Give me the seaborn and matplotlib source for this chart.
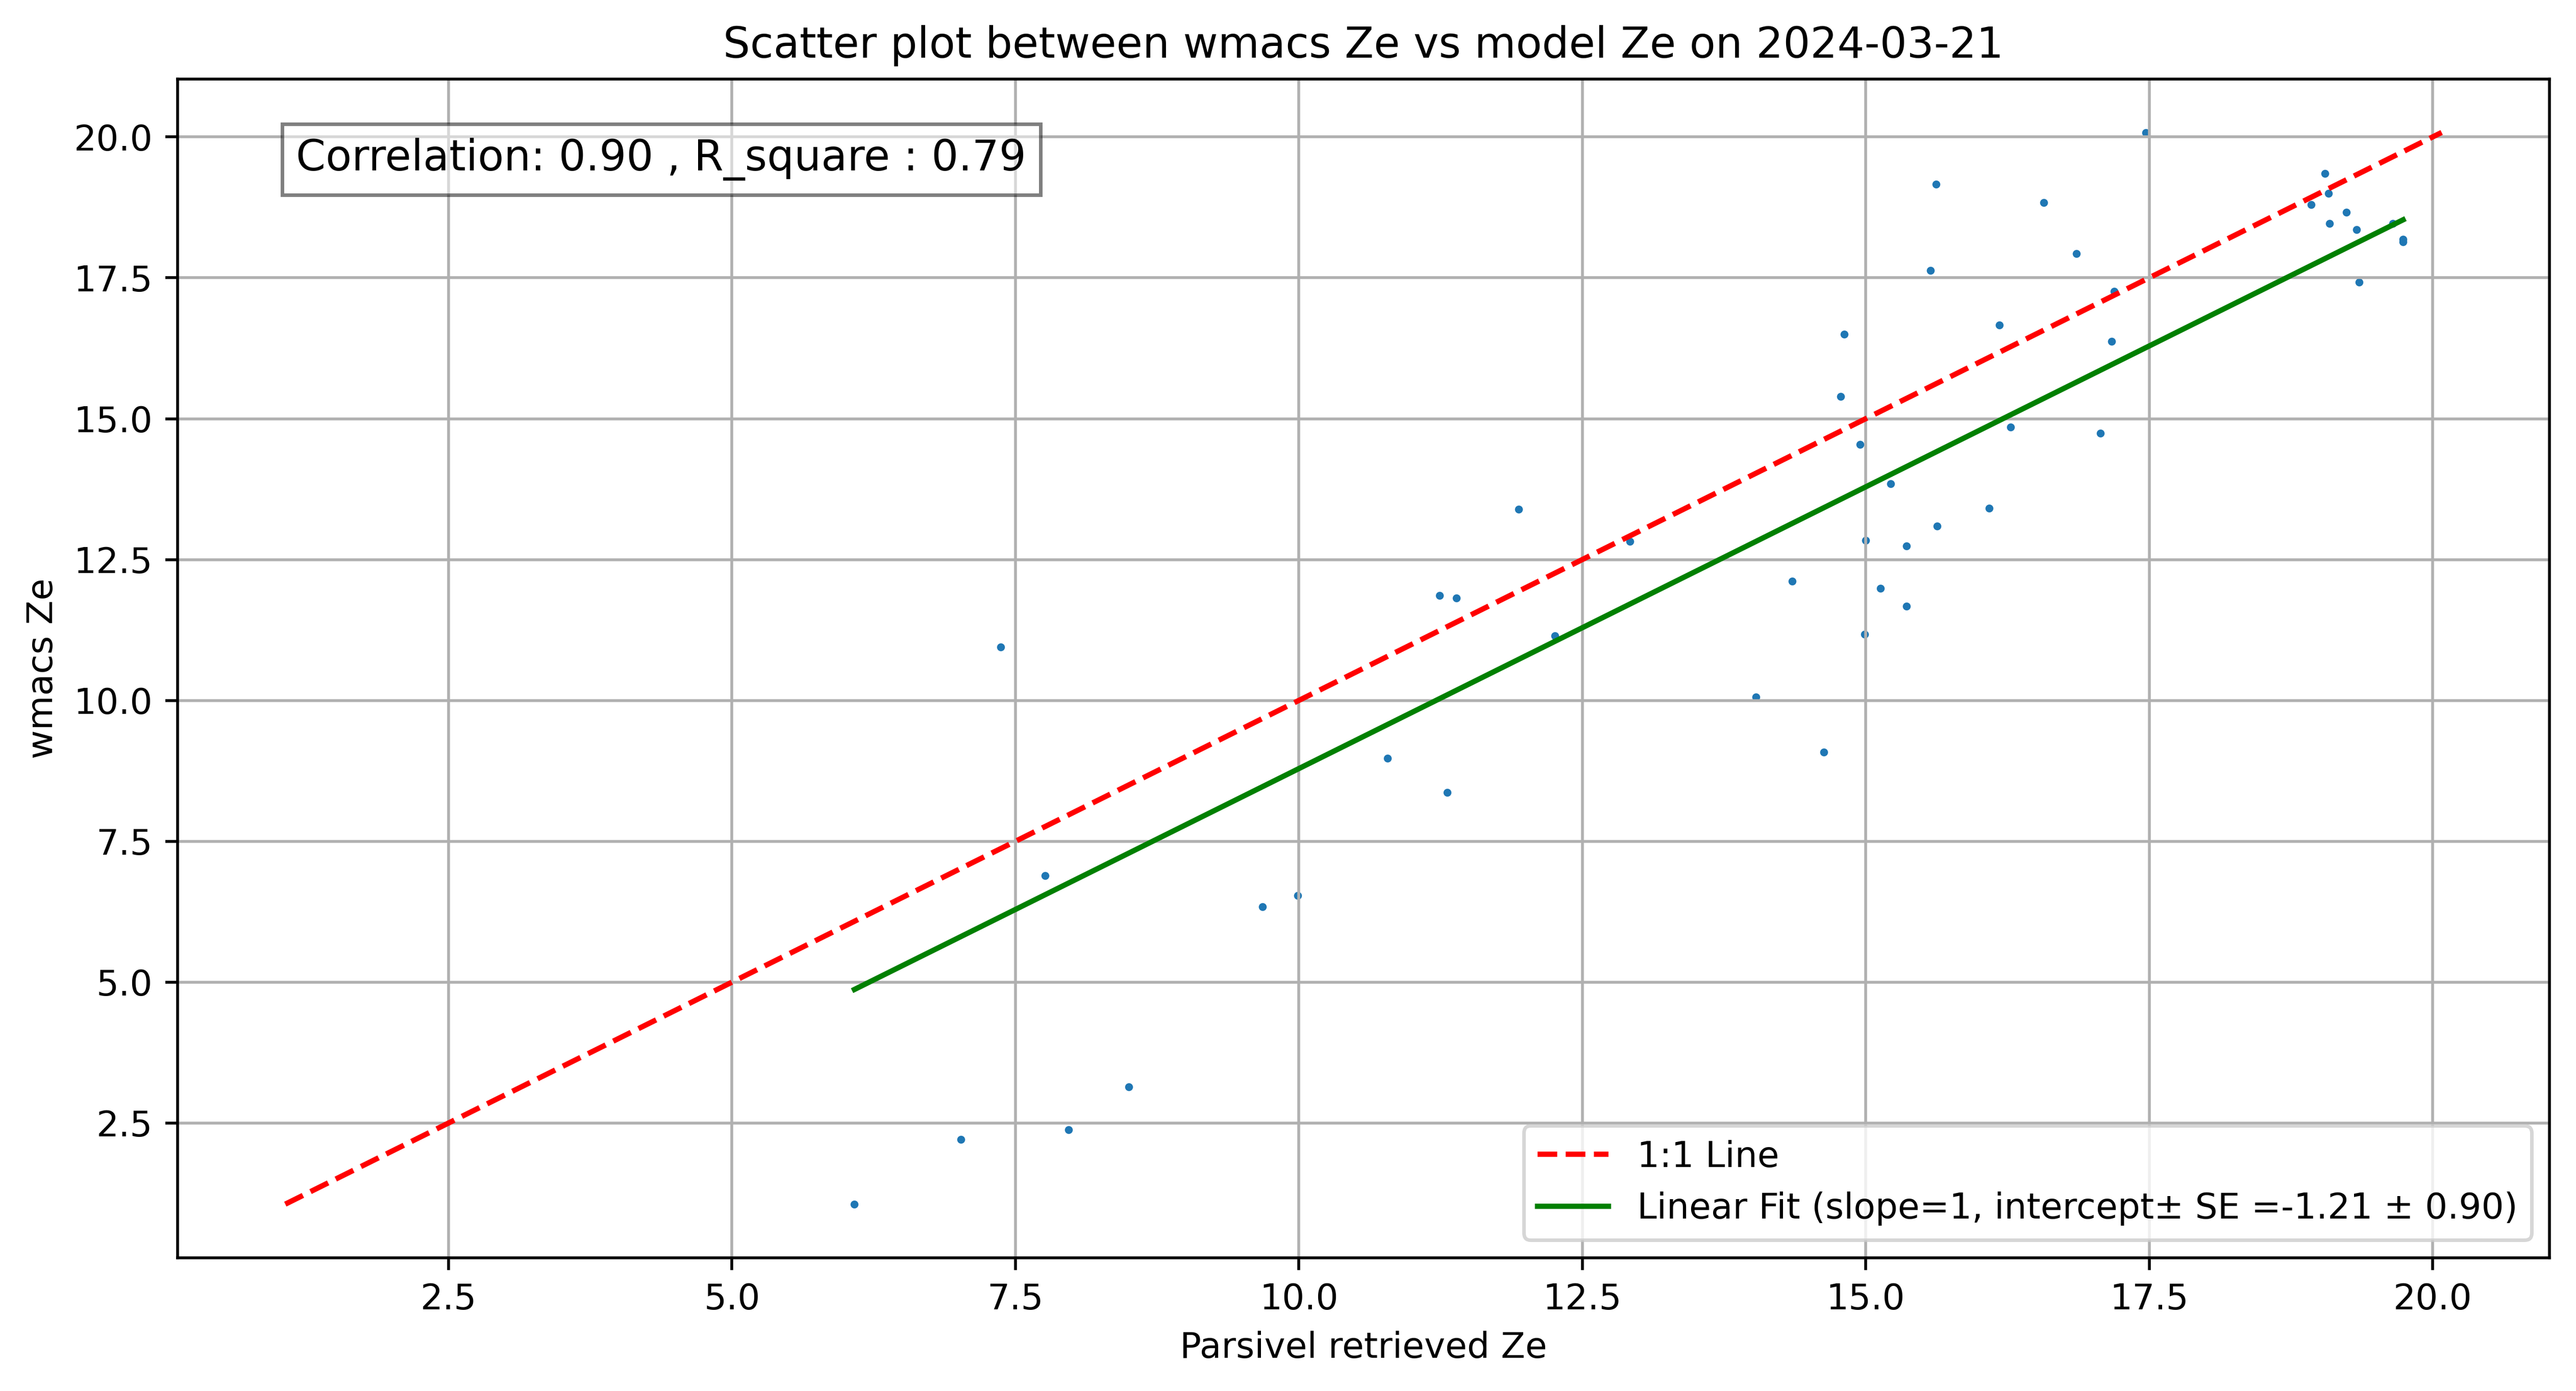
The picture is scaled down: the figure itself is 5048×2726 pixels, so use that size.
import numpy as np
import pandas as pd
import seaborn as sns
import matplotlib.pyplot as plt

# Parsivel retrieved Ze (x) and wmacs Ze (y)
parsivel_ze = [6.08, 7.02, 7.37, 7.76, 7.97, 8.50, 9.68, 9.99, 10.78, 11.24,
               11.31, 11.39, 11.94, 12.26, 12.92, 14.03, 14.35, 14.63, 14.78, 14.81,
               14.95, 15.00, 14.99, 15.13, 15.22, 15.36, 15.36, 15.57, 15.62, 15.63,
               16.09, 16.18, 16.28, 16.57, 16.86, 17.07, 17.17, 17.19, 17.47, 18.93,
               19.05, 19.08, 19.09, 19.24, 19.33, 19.35, 19.65, 19.74, 19.74]
wmacs_ze = [1.06, 2.21, 10.95, 6.89, 2.38, 3.14, 6.34, 6.54, 8.97, 11.86,
            8.37, 11.82, 13.39, 11.15, 12.82, 10.06, 12.12, 9.08, 15.39, 16.50,
            14.54, 12.84, 11.17, 11.99, 13.85, 12.74, 11.67, 17.63, 19.16, 13.09,
            13.41, 16.66, 14.85, 18.84, 17.93, 14.74, 16.37, 17.26, 20.08, 18.80,
            19.35, 19.00, 18.46, 18.66, 18.36, 17.42, 18.46, 18.18, 18.14]

# Stats as printed on the chart
correlation = 0.90
r_square = 0.79
intercept = -1.21
intercept_se = 0.90
date_str = '2024-03-21'

df = pd.DataFrame({'parsivel': parsivel_ze, 'wmacs': wmacs_ze})

fig, ax = plt.subplots(figsize=(5048 / 500, 2726 / 500))
fig.subplots_adjust(left=0.0689, right=0.9897, bottom=0.0958, top=0.9433)

sns.scatterplot(data=df, x='parsivel', y='wmacs', s=5, color='#1f77b4', linewidth=0, ax=ax)

# 1:1 line over the full range of both variables
lo = min(df['parsivel'].min(), df['wmacs'].min())
hi = max(df['parsivel'].max(), df['wmacs'].max())
ax.plot([lo, hi], [lo, hi], 'r--', label='1:1 Line')

# Linear fit with slope fixed at 1
x_fit = np.array([df['parsivel'].min(), df['parsivel'].max()])
ax.plot(x_fit, x_fit + intercept, color='green',
        label=f'Linear Fit (slope=1, intercept\u00b1 SE ={intercept:.2f} \u00b1 {intercept_se:.2f})')

ax.text(0.05, 0.95, f'Correlation: {correlation:.2f} , R_square : {r_square:.2f}',
        transform=ax.transAxes, fontsize=12, verticalalignment='top',
        bbox=dict(facecolor='white', alpha=0.5))

ax.set_title(f'Scatter plot between wmacs Ze vs model Ze on {date_str}')
ax.set_xlabel('Parsivel retrieved Ze')
ax.set_ylabel('wmacs Ze')
ax.legend(loc='lower right')
ax.grid(True)

fig.savefig('out.png', dpi=500)
